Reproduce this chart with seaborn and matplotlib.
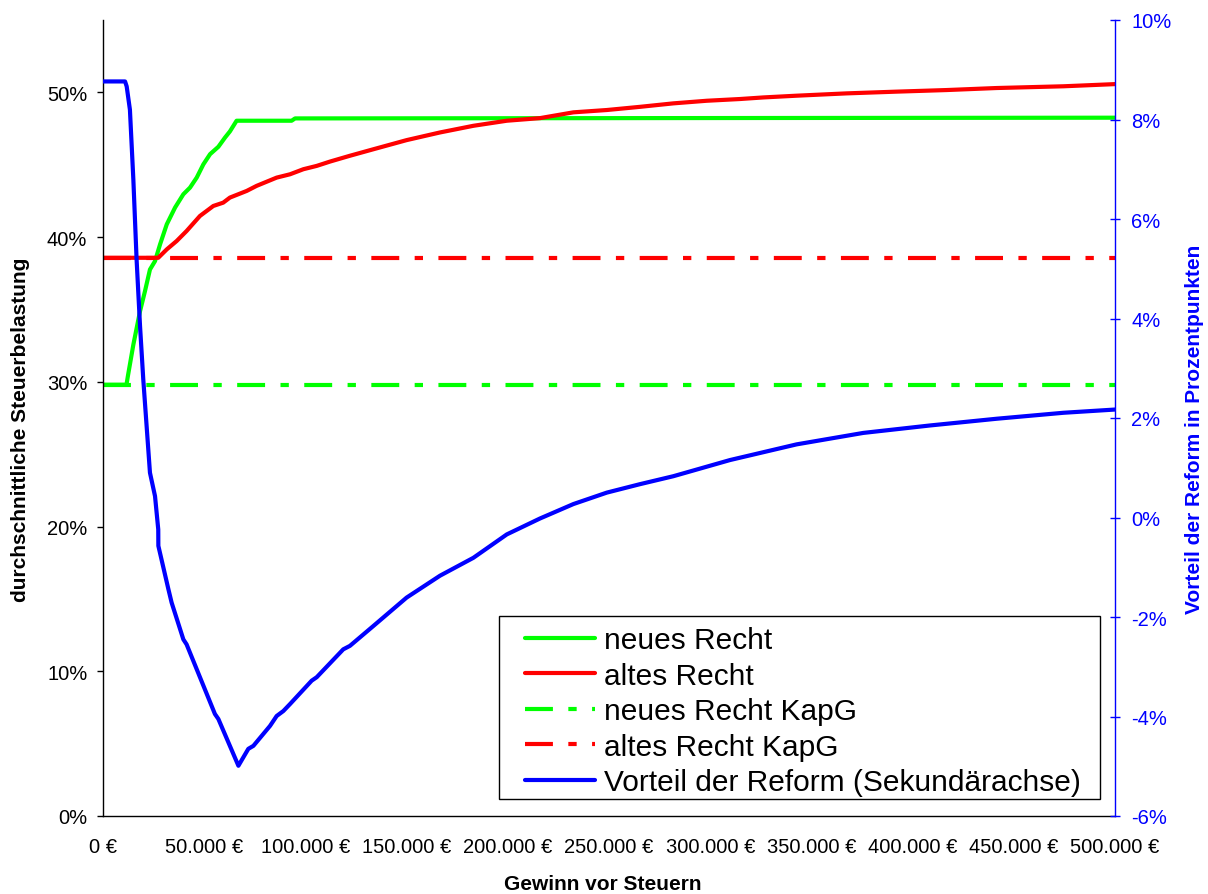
import matplotlib
matplotlib.use("Agg")
import matplotlib.pyplot as plt
from matplotlib.ticker import FuncFormatter, MultipleLocator
from matplotlib.lines import Line2D
from matplotlib.patches import Rectangle
import seaborn as sns
import pandas as pd

# Profit before tax in thousand euro, average tax burden in percent
gewinn_neu = [0, 11.6, 12.3, 15.0, 18.3, 20.75, 23.2, 25.7, 28.2, 31.5, 35.6, 39.7, 43.0,
              46.3, 49.6, 52.9, 57.0, 60.3, 62.7, 66.0, 93.2, 94.9, 500]
neues_recht = [29.8, 29.8, 30.4, 32.57, 34.88, 36.27, 37.76, 38.34, 39.5, 40.88, 42.04,
               42.96, 43.42, 44.11, 45.03, 45.73, 46.24, 46.88, 47.3, 48.04, 48.04, 48.2, 48.25]

gewinn_alt = [0, 27.3, 31.5, 36.4, 41.3, 47.9, 54.5, 59.4, 62.7, 71.0, 75.9, 85.8, 92.4,
              99.0, 105.6, 112.2, 122.0, 133.6, 150.0, 166.5, 183.0, 199.5, 215.9, 232.4,
              248.9, 265.3, 281.8, 298.3, 314.7, 326.3, 342.7, 367.4, 392.1, 416.8, 441.5,
              474.5, 500]
altes_recht = [38.57, 38.57, 39.15, 39.73, 40.42, 41.46, 42.15, 42.38, 42.73, 43.19, 43.54,
               44.11, 44.34, 44.69, 44.92, 45.22, 45.62, 46.07, 46.7, 47.23, 47.69, 48.04,
               48.22, 48.62, 48.78, 49.0, 49.24, 49.42, 49.54, 49.65, 49.77, 49.93, 50.05,
               50.16, 50.3, 50.42, 50.57]

gewinn_kapg = [0, 500]
neues_recht_kapg = [29.8, 29.8]
altes_recht_kapg = [38.57, 38.57]

# Advantage of the reform in percentage points (secondary axis)
gewinn_vorteil = [0, 10.9, 11.7, 13.3, 15.0, 16.6, 18.3, 19.9, 23.2, 25.7, 27.3, 27.35,
                  32.3, 33.9, 39.7, 41.3, 49.6, 55.3, 57.0, 66.9, 71.8, 74.3, 82.5, 85.8,
                  89.1, 92.4, 103.1, 105.6, 118.7, 122.0, 133.6, 150.0, 166.5, 183.0, 199.5,
                  215.9, 232.4, 248.9, 265.3, 281.8, 309.8, 342.7, 375.6, 408.6, 441.5,
                  474.5, 500]
vorteil = [8.765, 8.765, 8.665, 8.197, 6.79, 5.185, 3.845, 2.775, 0.90, 0.43, -0.24, -0.57,
           -1.44, -1.71, -2.45, -2.55, -3.38, -3.95, -4.05, -4.99, -4.65, -4.59, -4.19, -3.99,
           -3.89, -3.75, -3.28, -3.21, -2.65, -2.58, -2.18, -1.61, -1.17, -0.81, -0.34,
           -0.02, 0.27, 0.50, 0.67, 0.83, 1.155, 1.47, 1.70, 1.85, 1.985, 2.105, 2.17]

x_ticks = list(range(0, 500001, 50000))
labels = ["neues Recht", "altes Recht", "neues Recht KapG", "altes Recht KapG",
          "Vorteil der Reform (Sekundärachse)"]

GREEN, RED, BLUE = "#00FF00", "#FF0000", "#0000FF"
LW = 3.0
DASH = (6.7, 3.7, 2.0, 3.7)

sns.set_theme(style="white")
plt.rcParams["font.family"] = ["Liberation Sans", "DejaVu Sans"]

fig = plt.figure(figsize=(12.08, 8.95), dpi=100)
ax = fig.add_axes([103 / 1208, 1 - 817 / 895, 1012 / 1208, 796 / 895])
ax2 = ax.twinx()


def frame(x, y):
    return pd.DataFrame({"x": [v * 1000 for v in x], "y": y})


sns.lineplot(data=frame(gewinn_neu, neues_recht), x="x", y="y", ax=ax, color=GREEN,
             lw=LW, sort=False, estimator=None)
sns.lineplot(data=frame(gewinn_alt, altes_recht), x="x", y="y", ax=ax, color=RED,
             lw=LW, sort=False, estimator=None)
sns.lineplot(data=frame(gewinn_kapg, neues_recht_kapg), x="x", y="y", ax=ax, color=GREEN,
             lw=LW, sort=False, estimator=None)
ax.lines[-1].set_dashes(DASH)
sns.lineplot(data=frame(gewinn_kapg, altes_recht_kapg), x="x", y="y", ax=ax, color=RED,
             lw=LW, sort=False, estimator=None)
ax.lines[-1].set_dashes(DASH)
sns.lineplot(data=frame(gewinn_vorteil, vorteil), x="x", y="y", ax=ax2, color=BLUE,
             lw=LW, sort=False, estimator=None)

# Primary axis
ax.set_xlim(0, 500000)
ax.set_ylim(0, 55)
ax.set_xticks(x_ticks)
ax.xaxis.set_major_formatter(FuncFormatter(lambda v, p: f"{v:,.0f} €".replace(",", ".")))
ax.yaxis.set_major_locator(MultipleLocator(10))
ax.yaxis.set_major_formatter(FuncFormatter(lambda v, p: f"{v:.0f}%"))
ax.tick_params(axis="x", direction="out", length=4.3, width=1, color="black",
               labelsize=14.5, pad=11.0, labelcolor="black")
ax.tick_params(axis="y", direction="out", length=4.3, width=1, color="black",
               labelsize=14.5, pad=7, labelcolor="black")
ax.set_xlabel("Gewinn vor Steuern", fontsize=15, fontweight="bold", color="black")
ax.set_ylabel("durchschnittliche Steuerbelastung", fontsize=15, fontweight="bold",
              color="black")
ax.xaxis.set_label_coords(0.494, -0.073)
ax.yaxis.set_label_coords(-0.072, 0.487)
for side in ("top", "right"):
    ax.spines[side].set_visible(False)
for side in ("left", "bottom"):
    ax.spines[side].set_color("black")
    ax.spines[side].set_linewidth(1.0)

# Secondary axis
ax2.set_ylim(-6, 10)
ax2.yaxis.set_major_locator(MultipleLocator(2))
ax2.yaxis.set_major_formatter(FuncFormatter(lambda v, p: f"{v:.0f}%"))
ax2.tick_params(axis="y", direction="inout", length=7.2, width=1, color=BLUE,
                labelsize=14.5, pad=8.0, labelcolor=BLUE, right=True)
ax2.set_ylabel("Vorteil der Reform in Prozentpunkten", fontsize=15, fontweight="bold",
               color=BLUE)
ax2.yaxis.set_label_coords(1.069, 0.487)
for side in ("top", "left", "bottom"):
    ax2.spines[side].set_visible(False)
ax2.spines["right"].set_color(BLUE)
ax2.spines["right"].set_linewidth(1.0)
ax.grid(False)
ax2.grid(False)

# Legend box with its own frame
ax2.add_patch(Rectangle((0.3913, 0.0214), 0.5939, 0.2299, transform=ax2.transAxes,
                        facecolor="white", edgecolor="black", lw=1.0, zorder=5,
                        clip_on=False))
handles = [
    Line2D([], [], color=GREEN, lw=LW),
    Line2D([], [], color=RED, lw=LW),
    Line2D([], [], color=GREEN, lw=LW, dashes=DASH),
    Line2D([], [], color=RED, lw=LW, dashes=DASH),
    Line2D([], [], color=BLUE, lw=LW),
]
leg = ax2.legend(handles, labels, loc="upper left", bbox_to_anchor=(0.417, 0.2385),
                 fontsize=21.5, frameon=False, handlelength=2.34, handletextpad=0.3,
                 labelspacing=0.25, borderpad=0, borderaxespad=0)
leg.set_zorder(6)
for t in leg.get_texts():
    t.set_color("black")

fig.savefig("out.png", dpi=100, facecolor="white")
